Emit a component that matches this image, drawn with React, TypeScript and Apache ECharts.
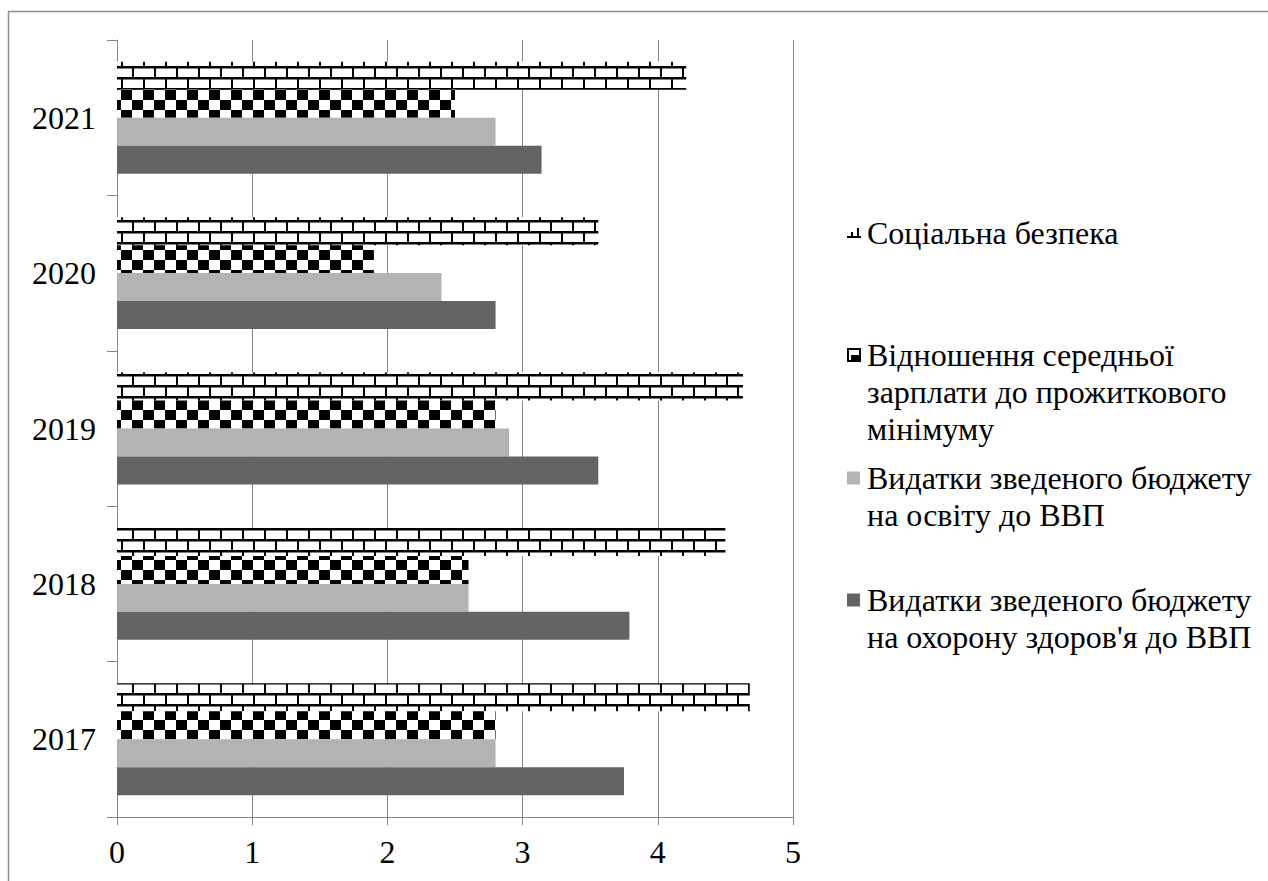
import { useEffect, useRef } from 'react';
import * as echarts from 'echarts';

const years = ['2017', '2018', '2019', '2020', '2021'];
const socialSecurity = [4.68, 4.5, 4.63, 3.56, 4.21];
const wageRatio = [2.8, 2.6, 2.8, 1.9, 2.5];
const educationShare = [2.8, 2.6, 2.9, 2.4, 2.8];
const healthShare = [3.75, 3.79, 3.56, 2.8, 3.14];
const seriesNames = [
  'Соціальна безпека',
  'Відношення середньої\nзарплати до прожиткового\nмінімуму',
  'Видатки зведеного бюджету\nна освіту до ВВП',
  "Видатки зведеного бюджету\nна охорону здоров'я до ВВП",
];
const axisMin = 0;
const axisMax = 5;
const axisStep = 1;

const FONT = 'Liberation Serif';
const GRAY = '#868686';

function makeChecker() {
  const c = document.createElement('canvas');
  c.width = 22;
  c.height = 20;
  const g = c.getContext('2d')!;
  g.fillStyle = '#fff';
  g.fillRect(0, 0, 22, 20);
  g.fillStyle = '#000';
  g.fillRect(0, 0, 11, 10);
  g.fillRect(11, 10, 11, 10);
  return c;
}

function makeBrick() {
  const c = document.createElement('canvas');
  c.width = 22;
  c.height = 22;
  const g = c.getContext('2d')!;
  g.fillStyle = '#fff';
  g.fillRect(0, 0, 22, 22);
  g.fillStyle = '#000';
  g.fillRect(0, 0, 22, 2.5);
  g.fillRect(0, 2, 2, 9);
  g.fillRect(0, 11, 22, 2.5);
  g.fillRect(11, 13, 2, 9);
  return c;
}

function legendIcon(i: number, cy: number, fills: any[]): any[] {
  const x = 847;
  if (i === 0) {
    return [
      { type: 'rect', shape: { x, y: cy + 3, width: 14, height: 2 }, style: { fill: '#000' } },
      { type: 'rect', shape: { x: x + 4, y: cy - 1, width: 2, height: 4 }, style: { fill: '#000' } },
      { type: 'rect', shape: { x: x + 10, y: cy - 5, width: 2, height: 8 }, style: { fill: '#000' } },
    ];
  }
  if (i === 1) {
    return [
      { type: 'rect', shape: { x: x + 1, y: cy - 6, width: 12, height: 12 }, style: { fill: '#fff', stroke: '#000', lineWidth: 2 } },
      { type: 'rect', shape: { x: x + 4, y: cy, width: 9, height: 6 }, style: { fill: '#000' } },
    ];
  }
  return [{ type: 'rect', shape: { x, y: cy - 6.5, width: 13, height: 13 }, style: { fill: fills[i] } }];
}

export default function App() {
  const ref = useRef<HTMLDivElement>(null);
  useEffect(() => {
    if (!ref.current) return;
    const chart = echarts.init(ref.current, undefined, { renderer: 'svg' });
    const checker = { image: makeChecker(), repeat: 'repeat', imageWidth: 22, imageHeight: 20 };
    const brick = { image: makeBrick(), repeat: 'repeat', imageWidth: 22, imageHeight: 22 };
    const fills: any[] = [brick, checker, '#b3b3b3', '#646464'];
    const dataSets = [socialSecurity, wageRatio, educationShare, healthShare];

    const legendCenters = [233, 355, 478, 600];
    const lineH = 37;
    const legendGraphics: any[] = [];
    seriesNames.forEach((name, i) => {
      const cy = legendCenters[i];
      legendGraphics.push(...legendIcon(i, cy, fills));
      name.split('\n').forEach((line, j) => {
        legendGraphics.push({
          type: 'text',
          x: 867,
          y: cy + j * lineH,
          style: {
            text: line,
            fontSize: 32,
            fontFamily: FONT,
            fill: '#000',
            verticalAlign: 'middle',
            align: 'left',
          },
        });
      });
    });

    chart.setOption({
      animation: false,
      backgroundColor: '#fff',
      grid: { left: 117, right: 475, top: 40, bottom: 64, containLabel: false },
      xAxis: {
        type: 'value',
        min: axisMin,
        max: axisMax,
        interval: axisStep,
        axisLine: { show: true, lineStyle: { color: GRAY, width: 1 } },
        axisTick: { show: true, length: 8, lineStyle: { color: GRAY } },
        splitLine: { show: true, lineStyle: { color: GRAY, width: 1 } },
        axisLabel: { color: '#000', fontSize: 32, fontFamily: FONT, margin: 19 },
      },
      yAxis: {
        type: 'category',
        data: years,
        axisLine: { show: true, lineStyle: { color: GRAY, width: 1 } },
        axisTick: { show: true, length: 10, lineStyle: { color: GRAY } },
        axisLabel: { color: '#000', fontSize: 32, fontFamily: FONT, margin: 21 },
      },
      series: dataSets.map((d, i) => ({
        type: 'bar',
        name: seriesNames[i],
        data: d,
        barGap: '0%',
        barCategoryGap: '28%',
        itemStyle: { color: fills[i] },
      })),
      graphic: [
        {
          type: 'rect',
          shape: { x: 8.5, y: 11.5, width: 1300, height: 900 },
          style: { fill: 'none', stroke: '#8c8c8c', lineWidth: 1.5 },
          silent: true,
        },
        ...legendGraphics,
      ],
    });
    return () => chart.dispose();
  }, []);
  return (
    <div
      ref={ref}
      style={{ position: 'fixed', left: 0, top: 0, width: 1268, height: 881 }}
    />
  );
}
